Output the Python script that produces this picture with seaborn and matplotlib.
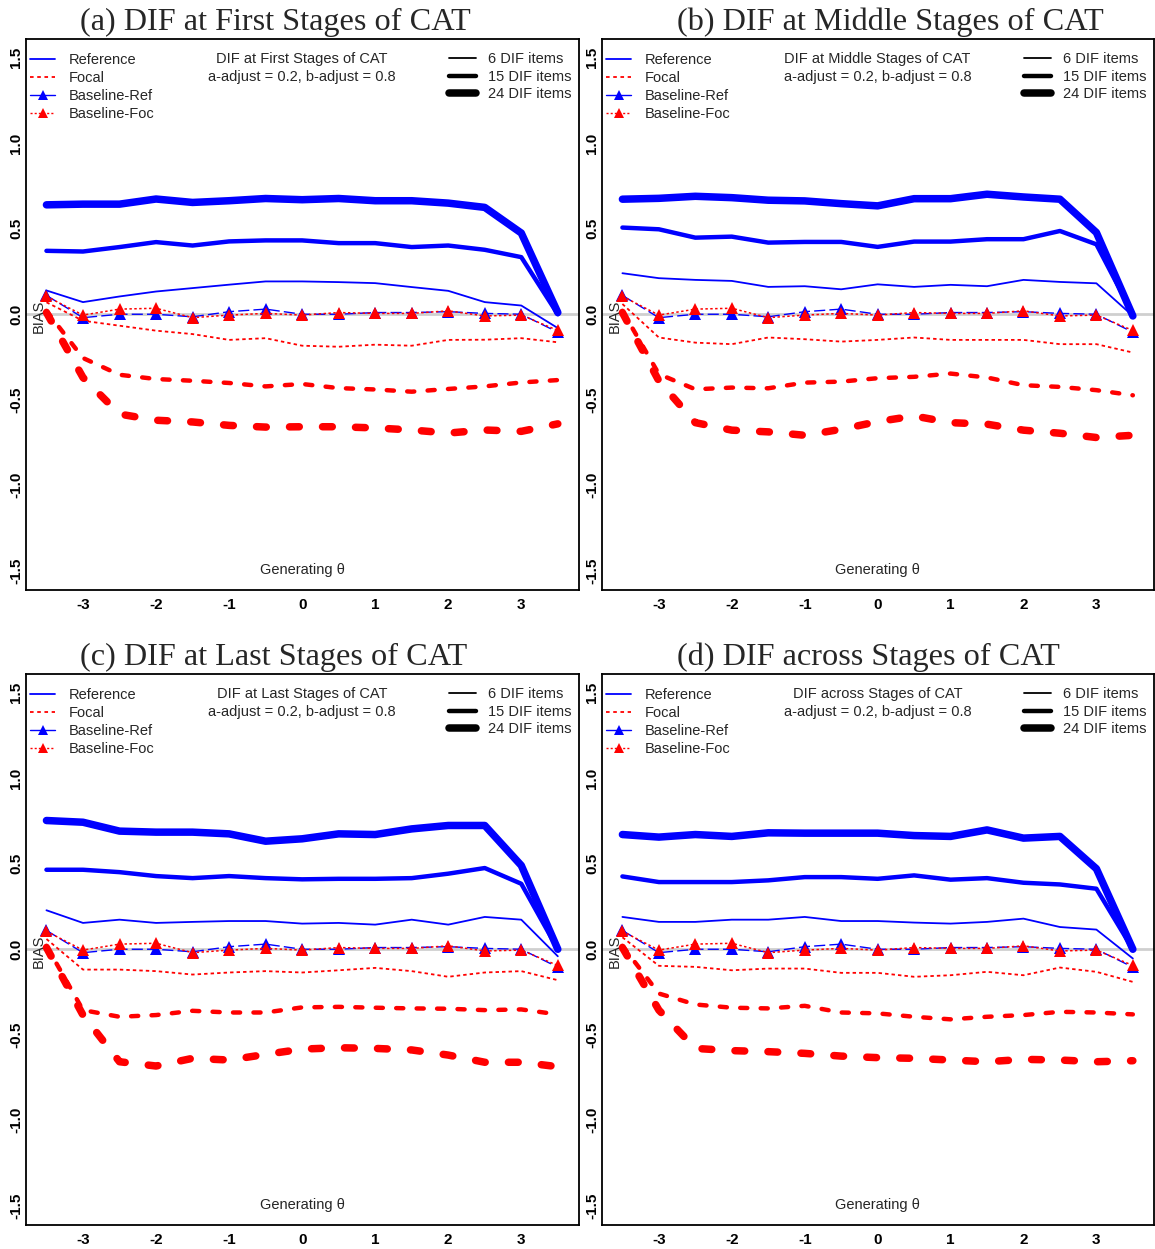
import matplotlib
matplotlib.use("Agg")
import matplotlib.pyplot as plt
import matplotlib.transforms as mtransforms
from matplotlib.lines import Line2D
import pandas as pd
import seaborn as sns

# ---------------------------------------------------------------- data
theta = [-3.5, -3.0, -2.5, -2.0, -1.5, -1.0, -0.5, 0.0, 0.5, 1.0, 1.5, 2.0, 2.5, 3.0, 3.5]

# no-DIF baseline, identical in every condition
baseline_ref = [0.11, -0.02, 0.00, 0.00, -0.015, 0.015, 0.03, 0.00, 0.00, 0.01, 0.01, 0.015, 0.005, 0.00, -0.105]
baseline_foc = [0.105, -0.005, 0.03, 0.035, -0.02, -0.005, 0.005, -0.005, 0.01, 0.005, 0.005, 0.02, -0.01, -0.005, -0.095]

# (a) DIF at first stages
first_ref_6 = [0.139, 0.071, 0.104, 0.133, 0.153, 0.173, 0.192, 0.192, 0.188, 0.182, 0.159, 0.137, 0.071, 0.051, -0.081]
first_ref_15 = [0.371, 0.367, 0.393, 0.422, 0.402, 0.426, 0.432, 0.432, 0.416, 0.416, 0.393, 0.402, 0.377, 0.334, 0.0]
first_ref_24 = [0.640, 0.644, 0.644, 0.674, 0.654, 0.664, 0.677, 0.670, 0.677, 0.664, 0.664, 0.650, 0.625, 0.475, 0.01]
first_foc_6 = [0.07, -0.038, -0.067, -0.096, -0.116, -0.150, -0.140, -0.184, -0.190, -0.178, -0.184, -0.150, -0.149, -0.140, -0.164]
first_foc_15 = [0.02, -0.256, -0.354, -0.379, -0.389, -0.402, -0.422, -0.408, -0.432, -0.440, -0.453, -0.437, -0.422, -0.399, -0.385]
first_foc_24 = [0.01, -0.370, -0.584, -0.620, -0.630, -0.650, -0.660, -0.658, -0.658, -0.665, -0.677, -0.695, -0.677, -0.685, -0.641]

# (b) DIF at middle stages
middle_ref_6 = [0.240, 0.211, 0.201, 0.195, 0.160, 0.164, 0.146, 0.175, 0.160, 0.172, 0.164, 0.201, 0.189, 0.181, -0.01]
middle_ref_15 = [0.507, 0.497, 0.448, 0.454, 0.419, 0.423, 0.423, 0.394, 0.425, 0.425, 0.439, 0.439, 0.487, 0.409, 0.0]
middle_ref_24 = [0.673, 0.678, 0.690, 0.682, 0.667, 0.663, 0.647, 0.634, 0.676, 0.676, 0.702, 0.686, 0.673, 0.478, -0.01]
middle_foc_6 = [0.06, -0.136, -0.166, -0.175, -0.136, -0.146, -0.160, -0.150, -0.136, -0.150, -0.150, -0.150, -0.175, -0.175, -0.224]
middle_foc_15 = [0.02, -0.350, -0.439, -0.429, -0.433, -0.400, -0.394, -0.374, -0.366, -0.347, -0.370, -0.415, -0.425, -0.444, -0.474]
middle_foc_24 = [0.01, -0.390, -0.634, -0.678, -0.688, -0.708, -0.673, -0.628, -0.595, -0.634, -0.643, -0.678, -0.696, -0.721, -0.708]

# (c) DIF at last stages
last_ref_6 = [0.228, 0.154, 0.173, 0.154, 0.160, 0.165, 0.165, 0.150, 0.154, 0.144, 0.173, 0.144, 0.189, 0.173, -0.041]
last_ref_15 = [0.465, 0.465, 0.451, 0.428, 0.416, 0.428, 0.416, 0.409, 0.412, 0.412, 0.416, 0.442, 0.475, 0.383, 0.0]
last_ref_24 = [0.753, 0.743, 0.691, 0.685, 0.685, 0.675, 0.632, 0.646, 0.675, 0.671, 0.704, 0.724, 0.724, 0.490, 0.0]
last_foc_6 = [0.06, -0.119, -0.119, -0.128, -0.148, -0.136, -0.128, -0.136, -0.123, -0.109, -0.128, -0.161, -0.136, -0.128, -0.181]
last_foc_15 = [0.02, -0.356, -0.395, -0.385, -0.360, -0.370, -0.370, -0.340, -0.337, -0.342, -0.346, -0.348, -0.356, -0.352, -0.381]
last_foc_24 = [0.01, -0.385, -0.658, -0.683, -0.638, -0.648, -0.615, -0.584, -0.576, -0.580, -0.589, -0.619, -0.661, -0.661, -0.687]

# (d) DIF across stages
across_ref_6 = [0.189, 0.160, 0.160, 0.173, 0.173, 0.189, 0.165, 0.165, 0.156, 0.150, 0.160, 0.179, 0.130, 0.115, -0.054]
across_ref_15 = [0.426, 0.393, 0.393, 0.393, 0.403, 0.422, 0.422, 0.412, 0.432, 0.407, 0.416, 0.389, 0.379, 0.354, 0.0]
across_ref_24 = [0.671, 0.656, 0.671, 0.660, 0.681, 0.679, 0.679, 0.679, 0.665, 0.660, 0.698, 0.650, 0.660, 0.471, 0.0]
across_foc_6 = [0.07, -0.097, -0.103, -0.123, -0.113, -0.113, -0.138, -0.138, -0.161, -0.152, -0.132, -0.152, -0.107, -0.132, -0.191]
across_foc_15 = [0.02, -0.259, -0.323, -0.342, -0.346, -0.331, -0.370, -0.375, -0.395, -0.410, -0.395, -0.385, -0.366, -0.370, -0.381]
across_foc_24 = [0.01, -0.356, -0.580, -0.593, -0.599, -0.609, -0.625, -0.634, -0.638, -0.648, -0.658, -0.644, -0.648, -0.658, -0.652]

panel_titles = ["(a) DIF at First Stages of CAT", "(b) DIF at Middle Stages of CAT",
                "(c) DIF at Last Stages of CAT", "(d) DIF across Stages of CAT"]
panel_notes = ["DIF at First Stages of CAT", "DIF at Middle Stages of CAT",
               "DIF at Last Stages of CAT", "DIF across Stages of CAT"]
adjust_note = "a-adjust = 0.2, b-adjust = 0.8"
dif_counts = [6, 15, 24]
x_ticks = [-3, -2, -1, 0, 1, 2, 3]
y_ticks = [-1.5, -1.0, -0.5, 0.0, 0.5, 1.0, 1.5]
y_tick_labels = ["-1.5", "-1.0", "-0.5", "0.0", "0.5", "1.0", "1.5"]

panels = [
    (first_ref_6, first_ref_15, first_ref_24, first_foc_6, first_foc_15, first_foc_24),
    (middle_ref_6, middle_ref_15, middle_ref_24, middle_foc_6, middle_foc_15, middle_foc_24),
    (last_ref_6, last_ref_15, last_ref_24, last_foc_6, last_foc_15, last_foc_24),
    (across_ref_6, across_ref_15, across_ref_24, across_foc_6, across_foc_15, across_foc_24),
]

# ---------------------------------------------------------------- style
sns.set_style("white")
plt.rcParams["font.family"] = ["Liberation Sans", "DejaVu Sans"]

BLUE = "#0000FF"
RED = "#FF0000"
line_width = {6: 1.3, 15: 3.2, 24: 5.4}
focal_dash = {6: (0, (1.9, 1.7)), 15: (0, (1.6, 3.0)), 24: (0, (1.3, 3.1))}
focal_cap = {6: "butt", 15: "round", 24: "round"}

W, H = 1155, 1249
fig = plt.figure(figsize=(W / 100, H / 100), dpi=100)

# axes boxes in pixels: left, top, right, bottom
boxes = [(26, 39, 579, 589.5), (602, 39, 1154, 589.5),
         (26, 674, 579, 1224.5), (602, 674, 1154, 1224.5)]
title_pos = [(80, 30), (677, 30), (80, 665), (677, 665)]


def draw(ax, values, **kw):
    df = pd.DataFrame({"theta": theta, "bias": values})
    sns.lineplot(data=df, x="theta", y="bias", ax=ax, estimator=None, sort=False, **kw)


for i, (box, series) in enumerate(zip(boxes, panels)):
    l, t, r, b = box
    ax = fig.add_axes([l / W, 1 - b / H, (r - l) / W, (b - t) / H])
    ref6, ref15, ref24, foc6, foc15, foc24 = series

    ax.axhline(0, color="#cfcfcf", lw=2.0, zorder=0.5)

    for n, vals in zip(dif_counts, (ref6, ref15, ref24)):
        draw(ax, vals, color=BLUE, linewidth=line_width[n], solid_capstyle="round",
             solid_joinstyle="round", zorder=2)
    for n, vals in zip(dif_counts, (foc6, foc15, foc24)):
        draw(ax, vals, color=RED, linewidth=line_width[n], linestyle=focal_dash[n],
             dash_capstyle=focal_cap[n], dash_joinstyle="round", zorder=2)

    draw(ax, baseline_ref, color=BLUE, linewidth=1.0, linestyle=(0, (8, 3)),
         marker="^", markersize=8, markeredgewidth=0, markerfacecolor=BLUE, zorder=3)
    draw(ax, baseline_foc, color=RED, linewidth=1.1, linestyle=(0, (1.6, 1.6)),
         marker="^", markersize=8, markeredgewidth=0, markerfacecolor=RED, zorder=4)

    ax.set_xlim(-3.78, 3.79)
    ax.set_ylim(-1.61, 1.61)
    ax.set_xlabel("")
    ax.set_ylabel("")
    ax.set_xticks(x_ticks, [str(v) for v in x_ticks], fontweight="bold")
    ax.set_yticks(y_ticks, y_tick_labels, fontweight="bold", rotation=90, va="center")
    ax.tick_params(axis="both", direction="in", length=5, width=1.1, labelsize=11, colors="black")
    ax.tick_params(axis="x", pad=6)
    ax.tick_params(axis="y", pad=2)
    for sp in ax.spines.values():
        sp.set_visible(True)
        sp.set_color("black")
        sp.set_linewidth(1.3)

    trans = mtransforms.blended_transform_factory(ax.transData, ax.transAxes)
    ax.text(0, 0.9637, panel_notes[i], transform=trans, ha="center", va="center", fontsize=10.5)
    ax.text(0, 0.9310, adjust_note, transform=trans, ha="center", va="center", fontsize=10.5)
    ax.text(-3.6, -0.01, "BIAS", rotation=90, ha="center", va="center", fontsize=10.5)
    ax.text(0, -1.494, "Generating \u03b8", ha="center", va="center", fontsize=10.5)

    group_handles = [
        Line2D([], [], color=BLUE, lw=1.3),
        Line2D([], [], color=RED, lw=1.3, linestyle=(0, (2, 2))),
        Line2D([], [], color=BLUE, lw=1.0, marker="^", markersize=7, markeredgewidth=0),
        Line2D([], [], color=RED, lw=1.0, linestyle=(0, (1.5, 1.5)), marker="^",
               markersize=7, markeredgewidth=0),
    ]
    leg1 = ax.legend(group_handles, ["Reference", "Focal", "Baseline-Ref", "Baseline-Foc"],
                     loc="upper left", bbox_to_anchor=(0.007, 0.974), borderaxespad=0,
                     borderpad=0, frameon=False, fontsize=10.5, handlelength=1.75,
                     handletextpad=0.95, labelspacing=0.27)
    ax.add_artist(leg1)

    size_handles = [Line2D([], [], color="black", lw=line_width[n], solid_capstyle="round")
                    for n in dif_counts]
    ax.legend(size_handles, [f"{n} DIF items" for n in dif_counts],
              loc="upper right", bbox_to_anchor=(1 - 7.5 / (r - l), 0.976), borderaxespad=0,
              borderpad=0, frameon=False, fontsize=10.5, handlelength=1.85,
              handletextpad=0.85, labelspacing=0.24)

    tx, ty = title_pos[i]
    fig.text(tx / W, 1 - ty / H, panel_titles[i], ha="left", va="baseline",
             fontsize=23.2, family=["Liberation Serif", "DejaVu Serif"])

fig.savefig("out.png", dpi=100)
